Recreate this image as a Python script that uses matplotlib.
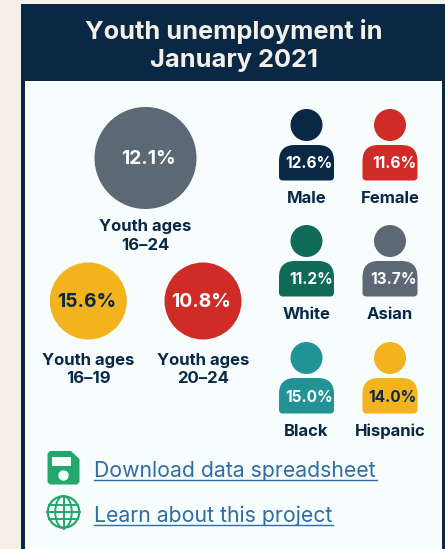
import matplotlib
matplotlib.use("Agg")
import matplotlib.pyplot as plt
from matplotlib.patches import Rectangle, Circle, PathPatch, Ellipse
from matplotlib.path import Path

plt.rcParams["font.family"] = ["Inter", "DejaVu Sans"]

NAVY = "#082846"
GREY = "#5C6873"
RED = "#D02C27"
YELLOW = "#F3B31E"
GREEN = "#0F6B58"
TEAL = "#219396"
LINK = "#2F6CA8"
ICON = "#24A76F"
CARD = "#F7FDFD"
CREAM = "#F4F0E6"

title_lines = ["Youth unemployment in", "January 2021"]

age_labels = ["Youth ages\n16–24", "Youth ages\n16–19", "Youth ages\n20–24"]
age_values = [12.1, 15.6, 10.8]
age_colors = [GREY, YELLOW, RED]
age_text = ["white", NAVY, "white"]
age_pos = [(145.5, 158, 51), (88.3, 301, 38.5), (203, 301, 38.5)]
age_text_x = [148.5, 86.5, 201]

group_labels = ["Male", "Female", "White", "Asian", "Black", "Hispanic"]
group_values = [12.6, 11.6, 11.2, 13.7, 15.0, 14.0]
group_colors = [NAVY, RED, GREEN, GREY, TEAL, YELLOW]
group_text = ["white", "white", "white", "white", "white", NAVY]
group_x = [306.5, 390, 306.5, 390, 306.5, 390]
group_y = [125, 125, 241, 241, 358, 358]

links = ["Download data spreadsheet", "Learn about this project"]
link_y = [470, 515]
link_end = [376.5, 333]

fig = plt.figure(figsize=(4.45, 5.49), dpi=100, facecolor=CREAM)
ax = fig.add_axes([0, 0, 1, 1])
ax.set_xlim(0, 445)
ax.set_ylim(549, 0)
ax.axis("off")

# card and header
ax.add_patch(Rectangle((21, 4), 424, 545, fc=NAVY, ec="none"))
ax.add_patch(Rectangle((25, 81), 417, 468, fc=CARD, ec="none"))
ax.text(233.5, 32, title_lines[0], color=CREAM, fontsize=18.3, fontweight="bold", ha="center", va="center")
ax.text(233.5, 60.5, title_lines[1], color=CREAM, fontsize=18.3, fontweight="bold", ha="center", va="center")


def body_path(cx, top):
    l, r, b = cx - 27.5, cx + 27.5, top + 35.5
    big, small = 16, 4
    verts = [(l + big, top), (r - big, top), (r, top), (r, top + big), (r, b - small), (r, b), (r - small, b),
             (l + small, b), (l, b), (l, b - small), (l, top + big), (l, top), (l + big, top), (l + big, top)]
    codes = [Path.MOVETO, Path.LINETO, Path.CURVE3, Path.CURVE3, Path.LINETO, Path.CURVE3, Path.CURVE3,
             Path.LINETO, Path.CURVE3, Path.CURVE3, Path.LINETO, Path.CURVE3, Path.CURVE3, Path.CLOSEPOLY]
    return Path(verts, codes)


# age circles
for i in range(len(age_values)):
    x, y, r = age_pos[i]
    ax.add_patch(Circle((x, y), r, fc=age_colors[i], ec="none"))
    ax.text(age_text_x[i], y + 1, f"{age_values[i]:.1f}%", color=age_text[i], fontsize=13.9, fontweight="bold",
            ha="center", va="center")
    ax.text(x, y + 78 if i == 0 else y + 68.5, age_labels[i], color=NAVY, fontsize=12, fontweight="bold",
            ha="center", va="center", linespacing=1.3)

# people
for i in range(len(group_values)):
    x, y = group_x[i], group_y[i]
    ax.add_patch(Circle((x, y), 16, fc=group_colors[i], ec="none"))
    ax.add_patch(PathPatch(body_path(x, y + 20), fc=group_colors[i], ec="none"))
    ax.text(x + 26.5, y + 39, f"{group_values[i]:.1f}%", color=group_text[i], fontsize=11.1, fontweight="bold",
            ha="right", va="center")
    ax.text(x, y + 73.5, group_labels[i], color=NAVY, fontsize=12, fontweight="bold", ha="center", va="center")

# save icon
vx = [50, 71, 79.5, 79.5, 77, 50, 47.5, 47.5, 50]
vy = [451, 451, 459, 482, 484.5, 484.5, 482, 453.5, 451]
ax.fill(vx, vy, color=ICON, lw=0)
ax.add_patch(Rectangle((52, 457), 19, 9, fc=CARD, ec="none"))
ax.add_patch(Circle((63.5, 475.5), 5.2, fc=CARD, ec="none"))

# globe icon
gx, gy, gr = 63.5, 512, 16.5
ax.add_patch(Circle((gx, gy), gr - 0.8, fc="none", ec=ICON, lw=1.6))
ax.add_patch(Ellipse((gx, gy), gr, 2 * gr - 1, fc="none", ec=ICON, lw=1.4))
ax.plot([gx, gx], [gy - gr, gy + gr], color=ICON, lw=1.4)
ax.plot([gx - gr, gx + gr], [gy, gy], color=ICON, lw=1.4)
ax.plot([gx - gr + 2.2, gx + gr - 2.2], [gy - 7, gy - 7], color=ICON, lw=1.4)
ax.plot([gx - gr + 2.2, gx + gr - 2.2], [gy + 7, gy + 7], color=ICON, lw=1.4)

# links
for i in range(len(links)):
    ax.text(94, link_y[i] + 1, links[i], color=LINK, fontsize=15.3, ha="left", va="center")
    ax.plot([94, link_end[i]], [link_y[i] + 9.5, link_y[i] + 9.5], color=LINK, lw=1)

fig.savefig("out.png", dpi=100, facecolor=CREAM)
